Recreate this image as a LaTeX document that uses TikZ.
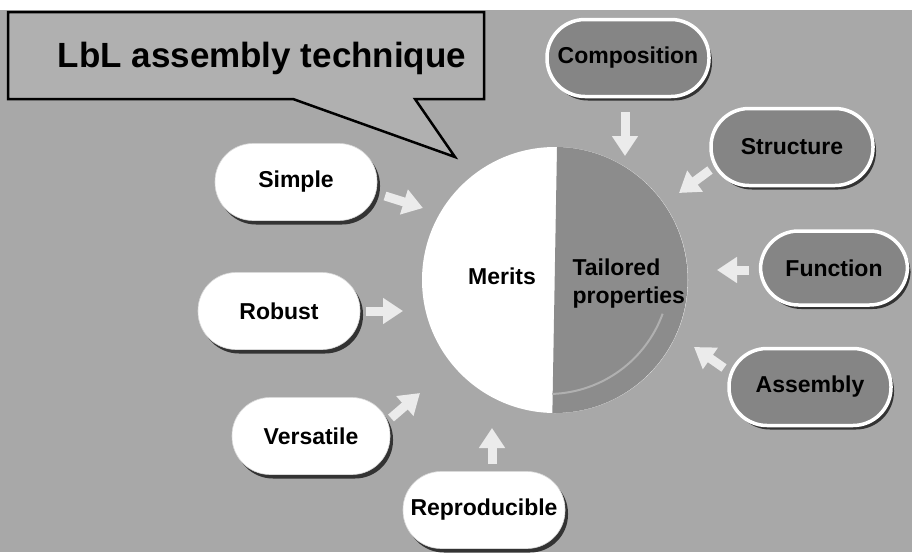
\documentclass[tikz,border=0pt]{standalone}
\usepackage{fontspec}
\setmainfont{Liberation Sans}
\usepackage{tikz}
\usetikzlibrary{arrows.meta,shadows,positioning}
\definecolor{bggray}{gray}{0.66}
\definecolor{boxgray}{gray}{0.69}
\definecolor{halfgray}{gray}{0.55}
\definecolor{pillgray}{gray}{0.52}
\definecolor{arrowwhite}{gray}{0.92}
\newcommand{\pillfont}{\fontsize{23}{27}\selectfont\bfseries}
\newcommand{\circrad}{133}

\begin{document}
\begin{tikzpicture}[x=1pt,y=-1pt,
  pill/.style={rectangle, rounded corners=38pt, minimum width=162pt, minimum height=77pt,
    font=\pillfont, inner sep=0pt, drop shadow={shadow xshift=3pt, shadow yshift=-4pt, fill=black!80, opacity=1}},
  merit/.style={pill, fill=white, draw=black!15, line width=0.6pt},
  prop/.style={pill, fill=pillgray, draw=white, line width=3.5pt},
  fat/.style={draw=arrowwhite, line width=9pt, -{Triangle[width=25pt,length=20pt]}}]
\useasboundingbox (0,0) rectangle (912,552);
\fill[white] (0,0) rectangle (912,10);
\fill[bggray] (0,10) rectangle (912,552);
%callout
\draw[fill=boxgray, line width=2.5pt, line join=miter]
  (8,12) -- (484,12) -- (484,99) -- (415,99) -- (455,157) -- (293,99) -- (8,99) -- cycle;
\node[font=\fontsize{35}{40}\selectfont\bfseries] (title) at (262,58) {LbL assembly technique};
%circle
\node[circle, fill=white, minimum size=2*\circrad pt, inner sep=0pt] (circ) at (555,280) {};
\fill[halfgray] (557,147) arc[start angle=-89, end angle=91, radius=\circrad] -- cycle;
\draw[gray!62, line width=2pt] (548,272) ++(20:122) arc[start angle=20, end angle=88, radius=122];
\node[font=\pillfont] (merits) at (502,276) {Merits};
\node[font=\pillfont, align=left, anchor=west] (tailored) at (569,284) {Tailored\\[1pt]properties};
%merits
\node[merit] (simple) at (296,182) {Simple};
\node[merit] (robust) at (279,311) {Robust};
\node[merit, minimum width=158pt] (versatile) at (311,436) {Versatile};
\node[merit] (reproducible) at (484,510) {Reproducible};
%properties
\node[prop] (composition) at (628,58) {Composition};
\node[prop] (structure) at (792,147) {Structure};
\node[prop, minimum width=147pt, minimum height=74pt] (function) at (834,268) {Function};
\node[prop] (assembly) at (810,387) {Assembly};
%arrows
\coordinate (simple-a) at (385,196);
\coordinate (simple-b) at (423,208);
\coordinate (robust-a) at (366,311);
\coordinate (robust-b) at (403,311);
\coordinate (versatile-a) at (391,418);
\coordinate (versatile-b) at (420,393);
\coordinate (reproducible-a) at (492,464);
\coordinate (reproducible-b) at (492,428);
\coordinate (composition-a) at (625,112);
\coordinate (composition-b) at (625,156);
\coordinate (structure-a) at (710,170);
\coordinate (structure-b) at (679,193);
\coordinate (function-a) at (749,270);
\coordinate (function-b) at (717,270);
\coordinate (assembly-a) at (724,368);
\coordinate (assembly-b) at (694,347);
\foreach \p in {simple,robust,versatile,reproducible,composition,structure,function,assembly}
  \draw[fat] (\p-a) -- (\p-b);
\end{tikzpicture}
\end{document}
